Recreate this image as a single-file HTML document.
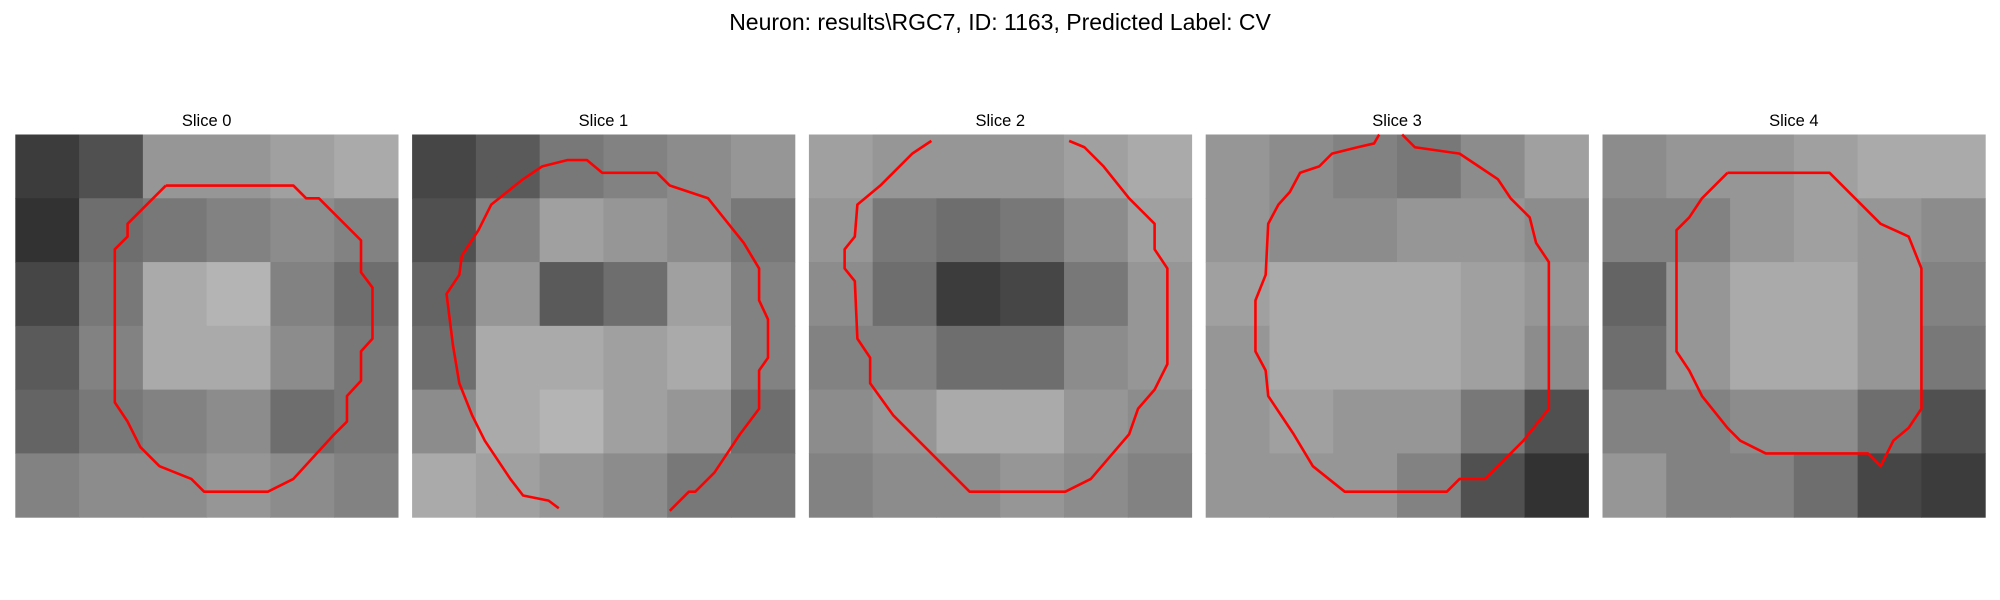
<!DOCTYPE html>
<html><head><meta charset="utf-8"><style>
html,body{margin:0;padding:0;background:#fff;width:2000px;height:600px;overflow:hidden}
svg{display:block;font-family:"Liberation Sans","DejaVu Sans",sans-serif}
</style></head><body>
<svg id="fig" width="2000" height="600" viewBox="0 0 2000 600">
<text x="1000" y="30" text-anchor="middle" font-size="23" fill="#000">Neuron: results\RGC7, ID: 1163, Predicted Label: CV</text>
</svg>
<script>
const sliceTitles=["Slice 0","Slice 1","Slice 2","Slice 3","Slice 4"];
const grid0=[[60,80,150,150,160,170],[50,110,120,130,140,130],[70,120,170,180,130,110],[90,130,170,170,140,120],[100,120,130,140,110,120],[130,140,140,150,140,130]];
const grid1=[[70,90,120,130,140,150],[80,130,160,150,140,120],[100,150,90,110,160,130],[110,170,170,160,170,130],[140,170,180,160,150,110],[170,160,150,140,120,120]];
const grid2=[[160,150,150,150,160,170],[150,120,110,120,140,160],[140,110,60,70,120,150],[130,130,110,110,140,150],[140,150,170,170,150,140],[130,140,140,150,140,130]];
const grid3=[[150,140,130,120,140,160],[150,140,140,150,150,140],[160,170,170,170,160,150],[150,170,170,170,160,140],[150,160,150,150,120,80],[150,150,150,130,80,50]];
const grid4=[[140,150,150,160,170,170],[130,130,150,160,150,140],[100,150,170,170,150,130],[110,150,170,170,150,120],[130,130,140,140,110,80],[150,130,130,110,70,60]];
const grids=[grid0,grid1,grid2,grid3,grid4];
const contour0=[[11.8,4],[21.8,4],[22.8,5],[23.8,5],[27.1,8.3],[27.1,10.8],[28,12],[28,16],[27.1,17],[27.1,19.3],[26,20.5],[26,22.5],[25,23.5],[21.8,27],[19.8,28],[14.8,28],[13.8,27],[11.3,26],[9.8,24.5],[8.8,22.5],[7.8,21],[7.8,9],[8.8,8],[8.8,7],[11.8,4]];
const contour1=[[11.5,29.3],[10.7,28.7],[8.7,28.3],[7.7,27],[6.7,25.5],[5.7,24],[4.7,22],[3.7,19.5],[3.2,16.5],[2.7,12.5],[3.7,11],[3.9,9.5],[5.2,7.5],[6.2,5.5],[8.7,3.5],[10.2,2.5],[12.2,2],[13.7,2],[14.9,3],[19.2,3],[20.2,4],[21.7,4.5],[23.2,5],[25.2,7.5],[26,8.5],[27.2,10.5],[27.2,13],[27.9,14.5],[27.9,17.5],[27.2,18.5],[27.2,21.5],[25.7,23.5],[24.7,25],[23.7,26.5],[22.2,28],[21.7,28],[20.2,29.5]];
const contour2=[[9.6,0.5],[8.1,1.5],[6.6,3],[5.6,4],[3.8,5.5],[3.6,8],[2.8,9],[2.8,10.5],[3.6,11.5],[3.8,16],[4.8,17.5],[4.8,19.5],[6.6,22],[8.6,24],[10.6,26],[12.6,28],[20.1,28],[22.1,27],[25.1,23.5],[25.8,21.5],[27.1,20],[28.1,18],[28.1,10.5],[27.1,9],[27.1,7],[25.1,5],[23.1,2.5],[21.6,1],[20.4,0.5]];
const contour3=[[13.6,0],[13.2,0.7],[11.9,1],[9.9,1.5],[8.9,2.5],[7.4,3],[6.6,4.5],[5.7,5.5],[4.9,7],[4.7,11],[3.9,13],[3.9,17],[4.7,18.5],[4.9,20.5],[5.9,22],[6.9,23.5],[8.4,26],[10.9,28],[18.9,28],[19.9,27],[21.9,27],[24.9,24],[26.9,21.5],[26.9,10],[25.9,8.5],[25.4,6.5],[23.9,5],[22.9,3.5],[21.4,2.5],[19.9,1.5],[16.4,1],[15.4,0]];
const contour4=[[9.8,3],[17.8,3],[19.8,5],[21.8,7],[24,8],[25,10.5],[25,21.5],[24,23],[22.8,24],[21.8,26],[20.8,25],[12.8,25],[10.8,24],[9.8,23],[7.8,20.5],[6.8,18.5],[5.8,17],[5.8,7.5],[6.8,6.5],[7.8,5],[8.8,4],[9.8,3]];
const contours=[contour0,contour1,contour2,contour3,contour4];

const NS="http://www.w3.org/2000/svg";
const svg=document.getElementById('fig');
const X0=15.3, STEP=396.8, W=382.7, Y0=134.5, UNITS=30;
function sx(i,u){return X0+i*STEP+u/UNITS*W;}
function sy(u){return Y0+u/UNITS*W;}
sliceTitles.forEach((t,i)=>{
  const g=document.createElementNS(NS,'g');
  
  
  svg.appendChild(g);
  const tx=document.createElementNS(NS,'text');
  
  
  tx.setAttribute('x',sx(i,UNITS/2));tx.setAttribute('y',126);
  tx.setAttribute('text-anchor','middle');tx.setAttribute('font-size','16.5');
  tx.textContent=t;g.appendChild(tx);
  const grid=grids[i];const n=grid.length;
  grid.forEach((row,r)=>row.forEach((v,c)=>{
    const rc=document.createElementNS(NS,'rect');
    
    
    const x1=sx(i,c*UNITS/n),x2=sx(i,(c+1)*UNITS/n),y1=sy(r*UNITS/n),y2=sy((r+1)*UNITS/n);
    rc.setAttribute('x',x1);rc.setAttribute('y',y1);
    rc.setAttribute('width',x2-x1+0.5);rc.setAttribute('height',y2-y1+0.5);
    rc.setAttribute('fill','rgb('+v+','+v+','+v+')');
    g.appendChild(rc);
  }));
  const pl=document.createElementNS(NS,'polyline');
  
  
  pl.setAttribute('points',contours[i].map(p=>sx(i,p[0])+','+sy(p[1])).join(' '));
  pl.setAttribute('fill','none');pl.setAttribute('stroke','#ff0000');
  pl.setAttribute('stroke-width','2.6');pl.setAttribute('stroke-linejoin','round');
  g.appendChild(pl);
});
</script>
</body></html>
